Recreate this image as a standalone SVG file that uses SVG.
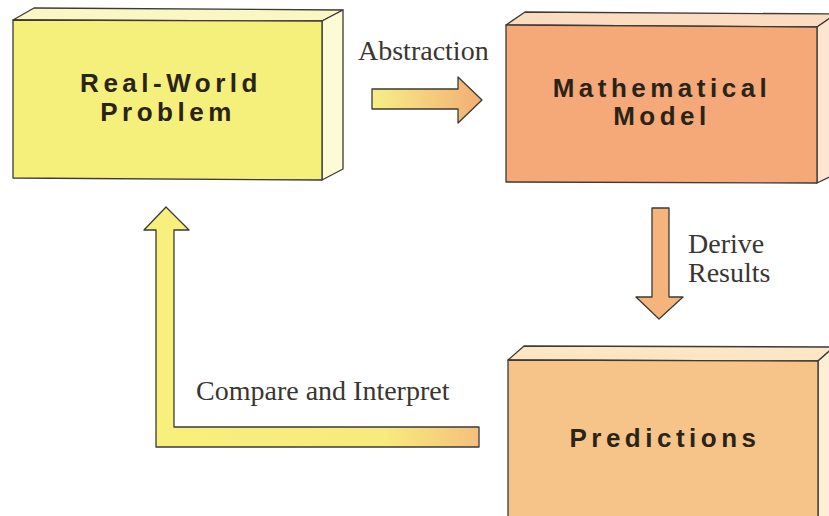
<svg xmlns="http://www.w3.org/2000/svg" width="829" height="516" viewBox="0 0 829 516">
<defs>
<linearGradient id="gAbs" x1="372" y1="0" x2="482" y2="0" gradientUnits="userSpaceOnUse">
<stop offset="0" stop-color="#f6ef86"/><stop offset="1" stop-color="#f3ae74"/>
</linearGradient>
<linearGradient id="gCmp" x1="144" y1="0" x2="480" y2="0" gradientUnits="userSpaceOnUse">
<stop offset="0" stop-color="#f8f07c"/><stop offset="0.72" stop-color="#f7ea7e"/><stop offset="1" stop-color="#f4c07c"/>
</linearGradient>
<style>
.edge{stroke:#3c3a36;stroke-width:1.3;stroke-linejoin:round}
.lbl{font-family:"Liberation Sans",Arial,sans-serif;font-weight:bold;font-size:26px;letter-spacing:4.5px;fill:#2a2418;text-anchor:middle}
.cap{font-family:"Liberation Serif","Times New Roman",serif;font-size:28px;fill:#3a3530}
</style>
</defs>
<rect width="829" height="516" fill="#ffffff"/>
<g id="real-world-problem">
<polygon class="edge" points="13,20 34,8 343,10 322,21" fill="#fbf7c4"/>
<polygon class="edge" points="322,21 343,10 343,169 322,180" fill="#fdfbd6"/>
<polygon class="edge" points="13,20 322,21 322,180 13,178" fill="#f5ef7c"/>
<text class="lbl" x="171" y="92">Real-World</text>
<text class="lbl" x="168" y="121">Problem</text>
</g>
<g id="mathematical-model">
<polygon class="edge" points="506,25 525,12 836,14 817,27" fill="#fbdcc0"/>
<polygon class="edge" points="817,27 836,14 836,174 817,183" fill="#fce6d2"/>
<polygon class="edge" points="506,25 817,27 817,183 506,182" fill="#f5a878"/>
<text class="lbl" x="662" y="97">Mathematical</text>
<text class="lbl" x="662" y="125">Model</text>
</g>
<g id="predictions">
<polygon class="edge" points="508,360 524,346 834,347 818,361" fill="#fce6c6"/>
<polygon class="edge" points="818,361 834,347 834,520 818,520" fill="#fdefd6"/>
<polygon class="edge" points="508,360 818,361 818,520 508,520" fill="#f6c488"/>
<text class="lbl" x="665" y="447">Predictions</text>
</g>
<g id="connectors">
<path class="edge" d="M372 89 L458 89 L458 77 L482 100 L458 123 L458 109 L372 109 Z" fill="url(#gAbs)"/>
<path class="edge" d="M652 208 L669 208 L669 297 L683 297 L659 319 L636 297 L652 297 Z" fill="#f5b47c"/>
<path class="edge" d="M479 427 L174 427 L174 230 L189 230 L166 207 L144 230 L156 230 L156 447 L479 447 Z" fill="url(#gCmp)"/>
<text class="cap" x="358" y="60">Abstraction</text>
<text class="cap" x="688" y="253">Derive</text>
<text class="cap" x="688" y="282">Results</text>
<text class="cap" x="196" y="400">Compare and Interpret</text>
</g>
</svg>
